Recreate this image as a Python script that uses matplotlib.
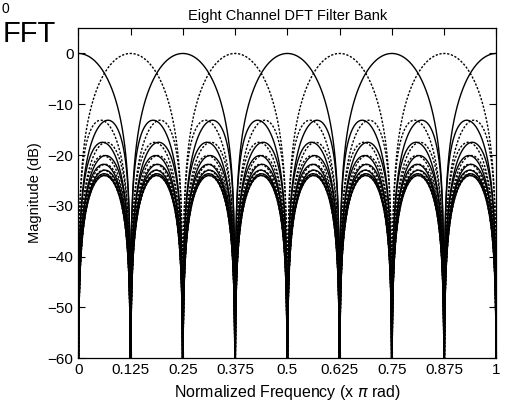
import numpy as np
import matplotlib
matplotlib.use("Agg")
import matplotlib.pyplot as plt

plt.rcParams['font.family'] = ['Liberation Sans', 'DejaVu Sans']

# filter bank: 16-tap rectangular prototype, channels spaced pi/8 apart
n_taps = 16
channel_centers = [0, 0.125, 0.25, 0.375, 0.5, 0.625, 0.75, 0.875,
                   1.0, 1.125, 1.25, 1.375, 1.5, 1.625, 1.75, 1.875]
x_ticks = [0, 0.125, 0.25, 0.375, 0.5, 0.625, 0.75, 0.875, 1]
x_tick_labels = ["0", "0.125", "0.25", "0.375", "0.5", "0.625", "0.75", "0.875", "1"]
y_ticks = [0, -10, -20, -30, -40, -50, -60]

w = np.linspace(0, 1, 4001)  # x pi rad
n = np.arange(n_taps)

fig = plt.figure(figsize=(5.05, 4.01), dpi=100)
ax = fig.add_axes([0.155, 0.107, 0.828, 0.823])

for k, c in enumerate(channel_centers):
    h = np.exp(1j * np.pi * c * n) / n_taps
    H = np.exp(-1j * np.pi * np.outer(w, n)) @ h
    mag = 20 * np.log10(np.maximum(np.abs(H), 1e-8))
    if k % 2 == 0:
        ax.plot(w, mag, color='black', linestyle='-', linewidth=1.0)
    else:
        ax.plot(w, mag, color='black', linestyle=(0, (1.6, 1.2)), linewidth=1.0)

ax.set_xlim(0, 1)
ax.set_ylim(-60, 5)
ax.set_xticks(x_ticks)
ax.set_xticklabels(x_tick_labels)
ax.set_yticks(y_ticks)
ax.tick_params(direction='in', top=True, right=True, length=5, labelsize=11)
for s in ax.spines.values():
    s.set_linewidth(0.9)

ax.set_title("Eight Channel DFT Filter Bank", fontsize=10.5, pad=6)
ax.set_xlabel(r"Normalized Frequency (x $\pi$ rad)", fontsize=11.5)
ax.set_ylabel("Magnitude (dB)", fontsize=10.5)

fig.text(0.005, 0.895, "FFT", fontsize=21)
fig.text(0.002, 0.968, "0", fontsize=10)

fig.savefig("out.png", dpi=100)
